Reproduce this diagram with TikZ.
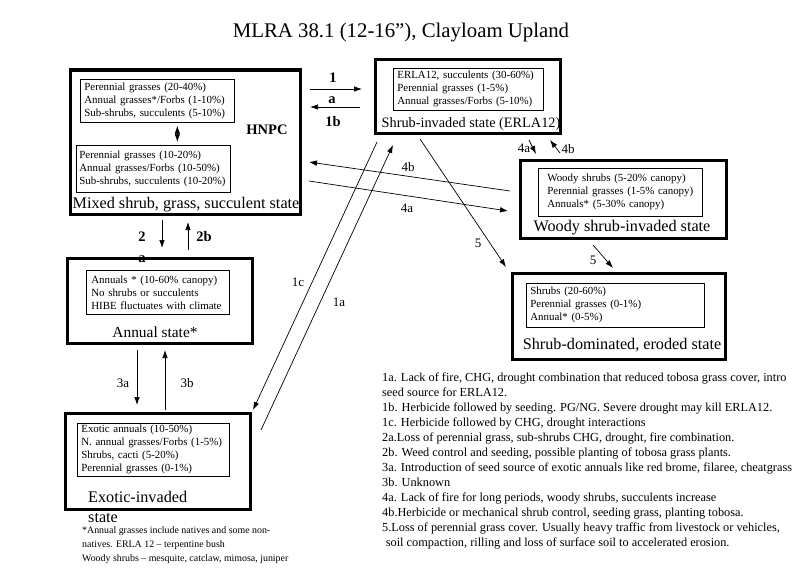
\documentclass[tikz,border=0pt]{standalone}
\usepackage{fontspec}
\setmainfont{Liberation Serif}
\usetikzlibrary{arrows.meta}

\newcommand\titlefont{\fontsize{20.8}{24}\selectfont}
\newcommand\listfont{\fontsize{10.9}{13}\selectfont}
\newcommand\statefont{\fontsize{16.2}{20}\selectfont}
\newcommand\notefont{\fontsize{12.3}{15}\selectfont}
\newcommand\footfont{\fontsize{9.9}{14.3}\selectfont}
\newcommand\taglblfont{\fontsize{14.5}{16}\selectfont\bfseries}
\newcommand\steplblfont{\fontsize{13}{15}\selectfont}

\begin{document}
\begin{tikzpicture}[x=1pt, y=-1pt, >={Latex[length=8pt,width=5.5pt]},
  statebox/.style={draw, line width=3pt, inner sep=0pt},
  listbox/.style={draw, line width=0.7pt, anchor=north west, align=left,
    inner xsep=4pt, inner ysep=1pt, font=\listfont},
  statelbl/.style={font=\statefont, inner sep=0pt},
  taglbl/.style={font=\taglblfont, inner sep=0pt},
  steplbl/.style={font=\steplblfont, inner sep=0pt},
  link/.style={line width=0.7pt}]
  \useasboundingbox (0,0) rectangle (800,578); % keep the page size

  \node[font=\titlefont] (title) at (401,33) {MLRA 38.1 (12-16”), Clayloam Upland};

  % states
  \node[statebox, minimum width=230pt, minimum height=144pt] (hnpc) at (185,142) {};
  \node[listbox, text width=146pt, minimum height=43pt] (hnpcTop) at (80,79)
    {Perennial grasses (20-40\%)\\ Annual grasses*/Forbs (1-10\%)\\ Sub-shrubs, succulents (5-10\%)};
  \node[listbox, inner xsep=3pt, text width=148pt, minimum height=47pt] (hnpcBot) at (76,145)
    {Perennial grasses (10-20\%)\\ Annual grasses/Forbs (10-50\%)\\ Sub-shrubs, succulents (10-20\%)};
  \node[statelbl] (hnpcLbl) at (186,205) {Mixed shrub, grass, succulent state};
  \node[taglbl] (hnpcTag) at (267,130) {HNPC};

  \node[statebox, minimum width=185pt, minimum height=73pt] (erla) at (467.5,96.5) {};
  \node[listbox, text width=142pt, minimum height=42pt] (erlaIn) at (393,68)
    {ERLA12, succulents (30-60\%)\\ Perennial grasses (1-5\%)\\ Annual grasses/Forbs (5-10\%)};
  \node[statelbl, font=\fontsize{14.3}{18}\selectfont] (erlaLbl) at (471,124) {Shrub-invaded state (ERLA12)};

  \node[statebox, minimum width=206pt, minimum height=78pt] (woody) at (623,199) {};
  \node[listbox, inner xsep=9pt, text width=146pt, minimum height=48pt] (woodyIn) at (538,168)
    {Woody shrubs (5-20\% canopy)\\ Perennial grasses (1-5\% canopy)\\ Annuals* (5-30\% canopy)};
  \node[statelbl] (woodyLbl) at (622,228) {Woody shrub-invaded state};

  \node[statebox, minimum width=213pt, minimum height=86pt] (erod) at (618.5,316) {};
  \node[listbox, text width=170pt, minimum height=44pt] (erodIn) at (526,283)
    {Shrubs (20-60\%)\\ Perennial grasses (0-1\%)\\ Annual* (0-5\%)};
  \node[statelbl] (erodLbl) at (622,345) {Shrub-dominated, eroded state};

  \node[statebox, minimum width=185pt, minimum height=85pt] (annual) at (159.5,300.5) {};
  \node[listbox, inner xsep=5pt, text width=133pt, minimum height=44pt] (annualIn) at (86,270)
    {Annuals * (10-60\% canopy)\\ No shrubs or succulents\\ HIBE fluctuates with climate};
  \node[statelbl, font=\fontsize{15.4}{20}\selectfont] (annualLbl) at (155,332) {Annual state*};

  \node[statebox, minimum width=185pt, minimum height=96pt] (exotic) at (157.5,461) {};
  \node[listbox, inner xsep=4pt, text width=144pt, minimum height=53pt] (exoticIn) at (77,423)
    {Exotic annuals (10-50\%)\\ N. annual grasses/Forbs (1-5\%)\\ Shrubs, cacti (5-20\%)\\ Perennial grasses (0-1\%)};
  \node[statelbl, anchor=north west, align=left] (exoticLbl) at (88,491) {Exotic-invaded\\ state};

  \draw[link, <->, shorten <=3pt, shorten >=3pt] ([xshift=20pt]hnpcTop.south) -- ([xshift=24pt]hnpcBot.north);

  % transitions
  \foreach \n/\p in {t1s/{310,89}, t1e/{362,89}, t1bs/{360,107}, t1be/{310,107},
      t2s/{162,220}, t2e/{162,248}, t2bs/{188,250}, t2be/{188,222},
      t3s/{137,350}, t3e/{137,405}, t3bs/{165,410}, t3be/{165,350},
      t1cs/{377,142}, t1ce/{253,410}, t1as/{261,430}, t1ae/{393,145},
      t4bs/{510,191}, t4be/{309,162}, t4as/{309,181}, t4ae/{508,211},
      t5s/{420,139}, t5e/{506,267}, u4as/{529,140}, u4ae/{536,154},
      u4bs/{560,153}, u4be/{550,140}, u5s/{593,245}, u5e/{613,268}}
    \coordinate (\n) at (\p);
  \foreach \a/\b in {t1s/t1e, t1bs/t1be, t2s/t2e, t2bs/t2be, t3s/t3e, t3bs/t3be,
      t1cs/t1ce, t1as/t1ae, t4bs/t4be, t4as/t4ae, t5s/t5e, u4as/u4ae, u4bs/u4be, u5s/u5e}
    \draw[link, ->] (\a) -- (\b);

  \node[taglbl] (l1) at (333,78) {1};
  \node[taglbl] (l1a) at (332,100) {a};
  \node[taglbl] (l1b) at (333,122) {1b};
  \node[taglbl] (l2) at (142,237) {2};
  \node[taglbl] (l2a) at (142,259) {a};
  \node[taglbl] (l2b) at (204,237) {2b};
  \node[steplbl] (l3a) at (123,383) {3a};
  \node[steplbl] (l3b) at (187,383) {3b};
  \node[steplbl] (l1c) at (298,282) {1c};
  \node[steplbl] (l1aa) at (339,302) {1a};
  \node[steplbl] (l4b) at (408,167) {4b};
  \node[steplbl] (l4a) at (407,208) {4a};
  \node[steplbl] (l5) at (478,243) {5};
  \node[steplbl] (m4a) at (524,148) {4a};
  \node[steplbl] (m4b) at (568,149) {4b};
  \node[steplbl] (m5) at (593,260) {5};

  % notes
  \node[font=\notefont, anchor=north west, align=left, inner sep=0pt] (notes) at (382,373)
    {1a. Lack of fire, CHG, drought combination that reduced tobosa grass cover, intro\\
     seed source for ERLA12.\\
     1b. Herbicide followed by seeding. PG/NG. Severe drought may kill ERLA12.\\
     1c. Herbicide followed by CHG, drought interactions\\
     2a.Loss of perennial grass, sub-shrubs CHG, drought, fire combination.\\
     2b. Weed control and seeding, possible planting of tobosa grass plants.\\
     3a. Introduction of seed source of exotic annuals like red brome, filaree, cheatgrass\\
     3b. Unknown\\
     4a. Lack of fire for long periods, woody shrubs, succulents increase\\
     4b.Herbicide or mechanical shrub control, seeding grass, planting tobosa.\\
     5.Loss of perennial grass cover.  Usually heavy traffic from livestock or  vehicles,\\
     \hspace{0.3em}soil compaction, rilling and loss of surface soil to accelerated erosion.};
  \node[font=\footfont, anchor=north west, align=left, inner sep=0pt] (foot) at (82,526)
    {*Annual grasses include natives and some non-\\
     natives. ERLA 12 -- terpentine bush\\
     Woody shrubs -- mesquite, catclaw, mimosa, juniper};
\end{tikzpicture}
\end{document}
